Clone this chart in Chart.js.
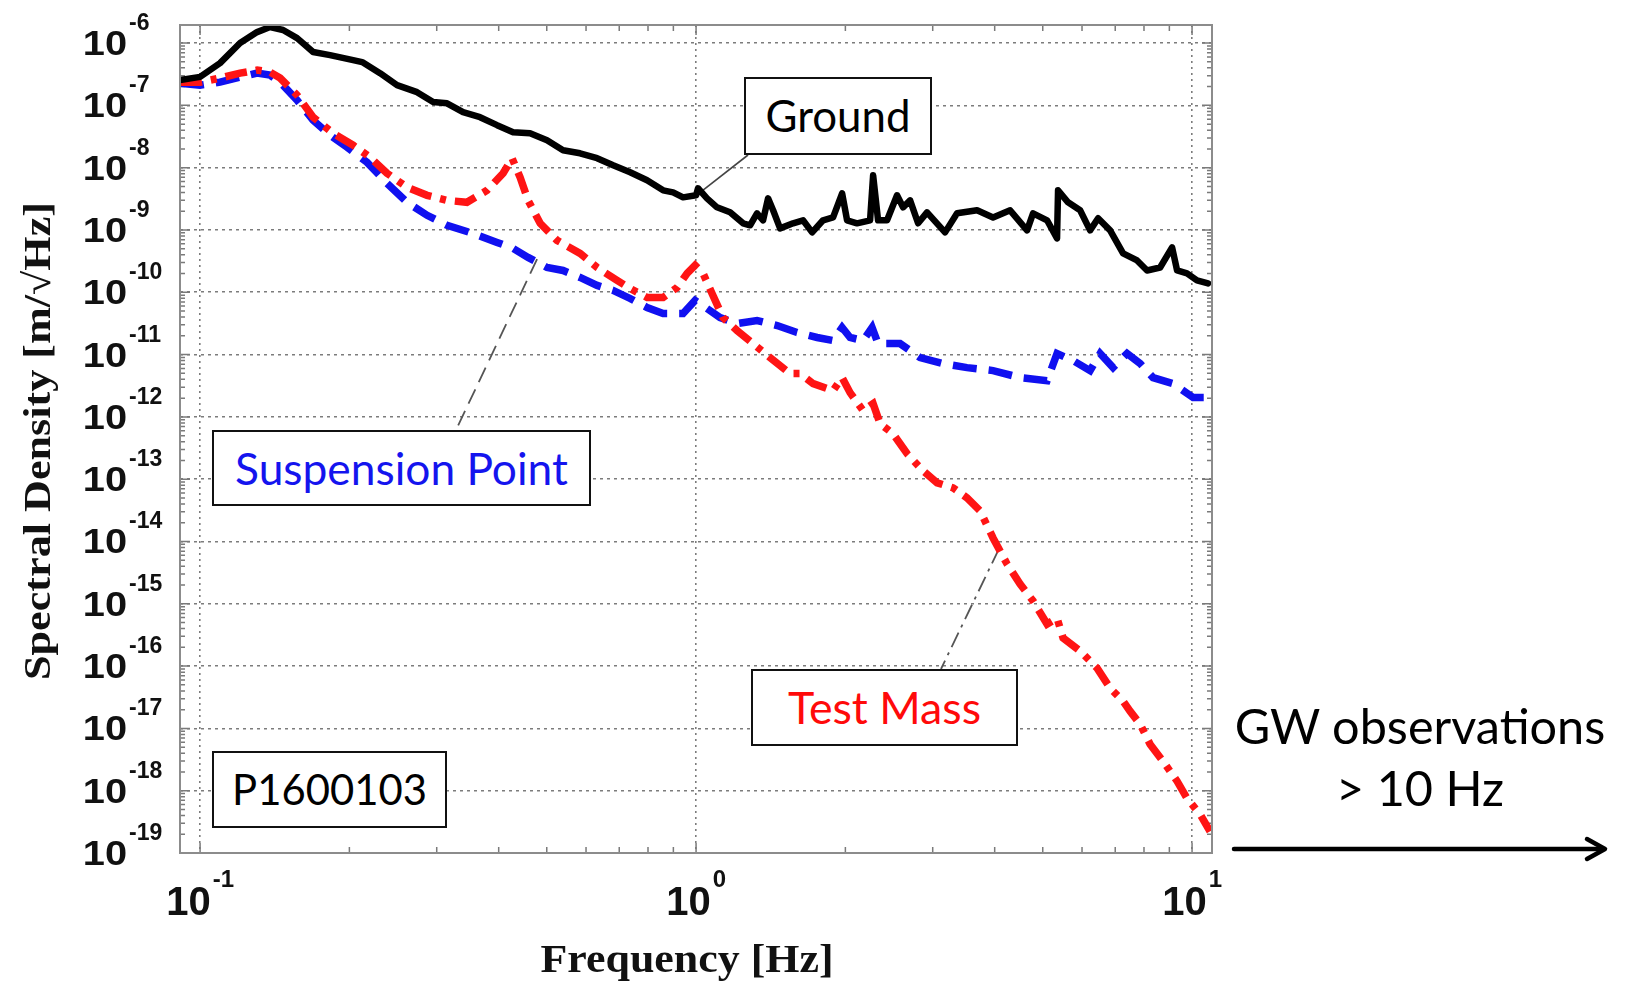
<!DOCTYPE html>
<html>
<head>
<meta charset="utf-8">
<script src="https://cdn.jsdelivr.net/npm/chart.js@4.4.0/dist/chart.umd.min.js"></script>
<style>
  html,body{margin:0;padding:0;background:#fff;}
  #wrap{position:relative;width:1627px;height:982px;overflow:hidden;}
  #c{position:absolute;left:0;top:0;}
  .box{position:absolute;box-sizing:border-box;border:2px solid #111;background:#fff;
       font-family:Lato,"Open Sans",sans-serif;display:flex;align-items:center;justify-content:center;
       white-space:nowrap;line-height:1;}
  .gw{position:absolute;left:1225px;width:390px;text-align:center;font-family:Lato,"Open Sans",sans-serif;
      white-space:nowrap;color:#000;line-height:62px;}
</style>
</head>
<body>
<div id="wrap">
  <canvas id="c" width="1627" height="982"></canvas>
  <div class="box" id="bGround" style="left:744px;top:77px;width:188px;height:78px;color:#000;">Ground</div>
  <div class="box" id="bSusp" style="left:212px;top:430px;width:379px;height:76px;color:#1414ee;">Suspension Point</div>
  <div class="box" id="bTest" style="left:751px;top:669px;width:267px;height:77px;color:#ff0a0a;">Test Mass</div>
  <div class="box" id="bP" style="left:212px;top:751px;width:235px;height:77px;color:#000;">P1600103</div>
  <div class="gw" id="gw1" style="top:694px;">GW observations</div>
  <div class="gw" id="gw2" style="top:756px;">&gt; 10 Hz</div>
</div>
<script>
const $ = (id) => document.getElementById(id);

// Ground (black, solid)
const groundHz = [0.0911, 0.1, 0.1097, 0.1204, 0.1303, 0.1384, 0.147, 0.1569, 0.169, 0.1828,
  0.2035, 0.2122, 0.2306, 0.2495, 0.2738, 0.295, 0.3147, 0.339, 0.3668, 0.397,
  0.4276, 0.4627, 0.5006, 0.5393, 0.5836, 0.6316, 0.6805, 0.7362, 0.7965, 0.8582,
  0.8988, 0.9414, 1.0, 1.009, 1.052, 1.102, 1.171, 1.244, 1.285, 1.327,
  1.365, 1.397, 1.43, 1.477, 1.569, 1.643, 1.714, 1.803, 1.889, 1.97,
  2.016, 2.111, 2.243, 2.275, 2.328, 2.427, 2.542, 2.614, 2.701, 2.803,
  2.922, 3.177, 3.359, 3.686, 3.97, 4.297, 4.649, 4.78, 5.101, 5.343,
  5.368, 5.623, 5.947, 6.229, 6.465, 6.836, 7.26, 7.747, 8.116, 8.622,
  9.115, 9.329, 9.77, 10.23, 10.77];
const groundVal = [2.54e-7, 2.87e-7, 4.77e-7, 1.0e-6, 1.5e-6, 1.81e-6, 1.62e-6, 1.2e-6, 7.17e-7, 6.41e-7,
  5.33e-7, 4.95e-7, 3.29e-7, 2.11e-7, 1.63e-7, 1.13e-7, 1.08e-7, 7.78e-8, 6.46e-8, 4.81e-8,
  3.71e-8, 3.57e-8, 2.76e-8, 1.9e-8, 1.7e-8, 1.42e-8, 1.09e-8, 8.43e-9, 6.27e-9, 4.33e-9,
  4.02e-9, 3.34e-9, 3.6e-9, 4.67e-9, 3.22e-9, 2.31e-9, 1.92e-9, 1.28e-9, 1.19e-9, 1.85e-9,
  1.43e-9, 3.22e-9, 2.07e-9, 1.06e-9, 1.28e-9, 1.43e-9, 9.15e-10, 1.43e-9, 1.59e-9, 3.88e-9,
  1.43e-9, 1.28e-9, 1.43e-9, 7.55e-9, 1.43e-9, 1.43e-9, 3.6e-9, 2.31e-9, 2.99e-9, 1.28e-9,
  1.92e-9, 9.15e-10, 1.85e-9, 2.07e-9, 1.59e-9, 2.07e-9, 9.85e-10, 1.85e-9, 1.43e-9, 7.33e-10,
  4.33e-9, 2.78e-9, 2.07e-9, 9.85e-10, 1.54e-9, 9.85e-10, 4.21e-10, 3.24e-10, 2.24e-10, 2.5e-10,
  5.25e-10, 2.24e-10, 2.01e-10, 1.55e-10, 1.39e-10];

// Suspension point (blue, dashed)
const suspHz = [0.0911, 0.1, 0.1097, 0.1204, 0.1303, 0.1384, 0.145, 0.1569, 0.169, 0.1828,
  0.1979, 0.2171, 0.2382, 0.2614, 0.2869, 0.3147, 0.3549, 0.397, 0.4276, 0.4584,
  0.5006, 0.5393, 0.5836, 0.6316, 0.6805, 0.7362, 0.7965, 0.8582, 0.9414, 0.9954,
  1.052, 1.118, 1.21, 1.327, 1.457, 1.598, 1.754, 1.889, 1.97, 2.044,
  2.171, 2.264, 2.328, 2.578, 2.829, 3.147, 3.518, 3.97, 4.501, 5.101,
  5.343, 5.755, 6.229, 6.526, 6.93, 7.396, 7.858, 8.344, 9.156, 10.05, 10.77];
const suspVal = [2.27e-7, 2.11e-7, 2.36e-7, 2.84e-7, 3.29e-7, 3.06e-7, 2.36e-7, 1.21e-7, 5.78e-8, 3.32e-8,
  2.13e-8, 1.22e-8, 5.61e-9, 2.78e-9, 1.72e-9, 1.19e-9, 8.82e-10, 6.32e-10, 5.06e-10, 3.63e-10,
  2.5e-10, 2.24e-10, 1.73e-10, 1.29e-10, 1.07e-10, 7.95e-11, 5.7e-11, 4.56e-11, 4.56e-11, 7.38e-11,
  5.49e-11, 3.93e-11, 3.15e-11, 3.52e-11, 2.93e-11, 2.26e-11, 1.88e-11, 1.68e-11, 2.72e-11, 1.88e-11,
  1.68e-11, 2.72e-11, 1.5e-11, 1.5e-11, 8.95e-12, 7.17e-12, 6.18e-12, 5.53e-12, 4.27e-12, 3.82e-12,
  1.04e-11, 8.01e-12, 5.53e-12, 1.04e-11, 6.18e-12, 1.04e-11, 7.17e-12, 4.27e-12, 3.42e-12, 2.04e-12, 2.04e-12];

// Test mass (red, dash-dot)
const testHz = [0.0911, 0.1, 0.1097, 0.1204, 0.1303, 0.1384, 0.145, 0.1569, 0.169, 0.1854,
  0.2035, 0.2201, 0.2382, 0.2614, 0.2869, 0.3147, 0.3451, 0.3789, 0.4083, 0.4256,
  0.4418, 0.4584, 0.4849, 0.5244, 0.5836, 0.6316, 0.693, 0.7362, 0.7965, 0.8582,
  0.9156, 0.9592, 0.9954, 1.033, 1.077, 1.133, 1.21, 1.303, 1.41, 1.547,
  1.621, 1.722, 1.889, 1.97, 2.044, 2.171, 2.275, 2.35, 2.495, 2.664,
  2.869, 3.062, 3.297, 3.518, 3.738, 3.97, 4.236, 4.501, 4.78, 5.101,
  5.343, 5.495, 5.947, 6.435, 6.836, 7.26, 7.499, 7.858, 8.229, 8.739,
  9.329, 9.77, 10.38, 10.87];
const testVal = [2.36e-7, 2.36e-7, 2.74e-7, 3.29e-7, 3.68e-7, 3.42e-7, 2.74e-7, 1.46e-7, 6.46e-8, 3.57e-8,
  2.29e-8, 1.47e-8, 8.13e-9, 4.84e-9, 3.6e-9, 2.99e-9, 2.78e-9, 4.33e-9, 8.13e-9, 1.42e-8,
  7.01e-9, 2.99e-9, 1.28e-9, 6.81e-10, 4.21e-10, 2.5e-10, 1.55e-10, 1.15e-10, 8.25e-11, 8.25e-11,
  1.19e-10, 2.01e-10, 2.7e-10, 2.01e-10, 9.57e-11, 3.93e-11, 2.43e-11, 1.5e-11, 8.95e-12, 4.95e-12,
  4.95e-12, 3.42e-12, 2.64e-12, 4.27e-12, 2.45e-12, 1.26e-12, 1.63e-12, 7.78e-13, 5.37e-13, 2.56e-13,
  1.36e-13, 8.75e-14, 7.27e-14, 5.02e-14, 3.1e-14, 1.14e-14, 4.36e-15, 2.08e-15, 1.11e-15, 4.73e-16,
  5.91e-16, 2.82e-16, 1.74e-16, 9.29e-17, 4.43e-17, 2.74e-17, 1.89e-17, 1.17e-17, 5.57e-18, 2.97e-18,
  1.42e-18, 7.55e-19, 4.17e-19, 2.22e-19];

// Axes
const xMin = 0.0911, xMax = 10.97;
const yMin = 1e-19, yMax = 1.95e-6;
const xTickPowers = [-1, 0, 1];
const yTickPowers = [-19, -18, -17, -16, -15, -14, -13, -12, -11, -10, -9, -8, -7, -6];

// where the label leader lines touch the curves [Hz, value]
const groundAnchor = [1.03, 4.3e-9];
const suspAnchor = [0.478, 3.4e-10];
const testAnchor = [4.08, 7.6e-15];

const pts = (xs, ys) => xs.map((x, i) => ({x, y: ys[i]}));

// make annotation text fill its box like the original
function fitText(id, w){
  const el = $(id);
  const ctx = document.createElement("canvas").getContext("2d");
  ctx.font = "48px Lato";
  const m = ctx.measureText(el.textContent).width;
  el.style.fontSize = (48 * w / m).toFixed(1) + "px";
}
fitText("bGround", 145);
fitText("bSusp", 333);
fitText("bTest", 193);
fitText("bP", 195);
fitText("gw1", 371);
$("gw2").style.fontSize = $("gw1").style.fontSize;

function line(ctx, x1, y1, x2, y2, color, w, dash){
  ctx.save();
  ctx.strokeStyle = color; ctx.lineWidth = w;
  ctx.setLineDash(dash || []);
  ctx.beginPath(); ctx.moveTo(x1, y1); ctx.lineTo(x2, y2); ctx.stroke();
  ctx.restore();
}

const overlay = {
  id: "overlay",
  beforeDatasetsDraw(chart){
    const ctx = chart.ctx, xs = chart.scales.x, ys = chart.scales.y;
    const a = chart.chartArea;
    // minor + major tick marks on all four sides
    ctx.save();
    ctx.strokeStyle = "#7a7a7a"; ctx.lineWidth = 1.5;
    for(let e = -2; e <= 1; e++){
      for(let k = 1; k <= 9; k++){
        const v = k * Math.pow(10, e);
        if(v < xMin || v > xMax) continue;
        const px = xs.getPixelForValue(v), len = k === 1 ? 10 : 6;
        ctx.beginPath();
        ctx.moveTo(px, a.bottom); ctx.lineTo(px, a.bottom - len);
        ctx.moveTo(px, a.top); ctx.lineTo(px, a.top + len);
        ctx.stroke();
      }
    }
    for(let e = -19; e <= -6; e++){
      for(let k = 1; k <= 9; k++){
        const v = k * Math.pow(10, e);
        if(v < yMin || v > yMax) continue;
        const py = ys.getPixelForValue(v), len = k === 1 ? 10 : 5;
        ctx.beginPath();
        ctx.moveTo(a.left, py); ctx.lineTo(a.left + len, py);
        ctx.moveTo(a.right, py); ctx.lineTo(a.right - len, py);
        ctx.stroke();
      }
    }
    ctx.restore();

    // leader lines from the labels to the curves
    const gx = xs.getPixelForValue(groundAnchor[0]), gy = ys.getPixelForValue(groundAnchor[1]);
    line(ctx, gx, gy, 748, 155, "#444", 1.6);
    const sx = xs.getPixelForValue(suspAnchor[0]), sy = ys.getPixelForValue(suspAnchor[1]);
    line(ctx, sx, sy, 456, 430, "#555", 1.8, [16, 8]);
    const tx = xs.getPixelForValue(testAnchor[0]), ty = ys.getPixelForValue(testAnchor[1]);
    line(ctx, tx, ty, 941, 669, "#555", 1.8, [16, 6, 3, 6]);
  },
  afterDraw(chart){
    const ctx = chart.ctx, xs = chart.scales.x, ys = chart.scales.y;
    const a = chart.chartArea;

    // plot frame
    ctx.save();
    ctx.strokeStyle = "#8c8c8c"; ctx.lineWidth = 2;
    ctx.strokeRect(a.left, a.top, a.right - a.left, a.bottom - a.top);
    ctx.restore();

    ctx.save();
    ctx.fillStyle = "#111";
    // y tick labels: 10 with raised exponent
    yTickPowers.forEach(p => {
      const py = ys.getPixelForValue(Math.pow(10, p));
      ctx.save();
      ctx.translate(127, py + 12);
      ctx.scale(1.17, 1.04);
      ctx.font = 'bold 34px "Liberation Sans", Arial, sans-serif';
      ctx.textAlign = "right"; ctx.textBaseline = "alphabetic";
      ctx.fillText("10", 0, 0);
      ctx.restore();
      ctx.font = 'bold 23px "Liberation Sans", Arial, sans-serif';
      ctx.textAlign = "left";
      ctx.fillText(String(p), 129, py - 13);
    });
    // x tick labels
    xTickPowers.forEach(p => {
      const px = xs.getPixelForValue(Math.pow(10, p));
      ctx.font = 'bold 40px "Liberation Sans", Arial, sans-serif';
      const w1 = ctx.measureText("10").width;
      ctx.font = 'bold 24px "Liberation Sans", Arial, sans-serif';
      const w2 = ctx.measureText(String(p)).width;
      const x0 = px - (w1 + 2 + w2) / 2;
      ctx.textAlign = "left";
      ctx.font = 'bold 40px "Liberation Sans", Arial, sans-serif';
      ctx.fillText("10", x0, 915);
      ctx.font = 'bold 24px "Liberation Sans", Arial, sans-serif';
      ctx.fillText(String(p), x0 + w1 + 2, 887);
    });

    // axis titles (bold serif, stretched to the original length)
    ctx.font = 'bold 38px "Liberation Serif", "Times New Roman", serif';
    const yt = "Spectral Density [m/\u221AHz]";
    const ytw = ctx.measureText(yt).width;
    ctx.save();
    ctx.translate(40, 441);
    ctx.rotate(-Math.PI / 2);
    ctx.scale(478 / ytw, 1);
    ctx.textAlign = "center"; ctx.textBaseline = "middle";
    ctx.fillText(yt, 0, 0);
    ctx.restore();

    ctx.font = 'bold 40px "Liberation Serif", "Times New Roman", serif';
    const xt = "Frequency [Hz]";
    const xtw = ctx.measureText(xt).width;
    ctx.save();
    ctx.translate(687, 972);
    ctx.scale(293 / xtw, 1);
    ctx.textAlign = "center"; ctx.textBaseline = "alphabetic";
    ctx.fillText(xt, 0, 0);
    ctx.restore();
    ctx.restore();

    // arrow towards higher frequencies
    ctx.save();
    ctx.strokeStyle = "#000"; ctx.lineWidth = 4.5; ctx.lineCap = "round"; ctx.lineJoin = "round";
    ctx.beginPath(); ctx.moveTo(1234, 849); ctx.lineTo(1603, 849); ctx.stroke();
    ctx.beginPath(); ctx.moveTo(1587, 839); ctx.lineTo(1605, 849); ctx.lineTo(1587, 859); ctx.stroke();
    ctx.restore();
  }
};

new Chart($("c").getContext("2d"), {
  type: "line",
  data: {
    datasets: [
      { label: "Ground", data: pts(groundHz, groundVal), borderColor: "#000", borderWidth: 6.5,
        borderJoinStyle: "round", borderCapStyle: "round" },
      { label: "Test Mass", data: pts(testHz, testVal), borderColor: "#ff1414", borderWidth: 7.5,
        borderDash: [22, 9, 6, 9] },
      { label: "Suspension Point", data: pts(suspHz, suspVal), borderColor: "#1010f0", borderWidth: 7.5,
        borderDash: [24, 12] }
    ]
  },
  options: {
    responsive: false,
    animation: false,
    elements: { point: { radius: 0 }, line: { tension: 0 } },
    layout: { padding: { left: 180, top: 25, right: 415, bottom: 129 } },
    plugins: { legend: { display: false }, tooltip: { enabled: false } },
    scales: {
      x: {
        type: "logarithmic", min: xMin, max: xMax,
        afterBuildTicks: (s) => { s.ticks = xTickPowers.map(p => ({ value: Math.pow(10, p) })); },
        ticks: { display: false },
        grid: { color: "#7c7c7c", lineWidth: 1.6, drawTicks: false },
        border: { display: false, dash: [2, 4] }
      },
      y: {
        type: "logarithmic", min: yMin, max: yMax,
        afterBuildTicks: (s) => { s.ticks = yTickPowers.map(p => ({ value: Math.pow(10, p) })); },
        ticks: { display: false },
        grid: { color: "#7c7c7c", lineWidth: 1.6, drawTicks: false },
        border: { display: false, dash: [3, 4] }
      }
    }
  },
  plugins: [overlay]
});
</script>
</body>
</html>
